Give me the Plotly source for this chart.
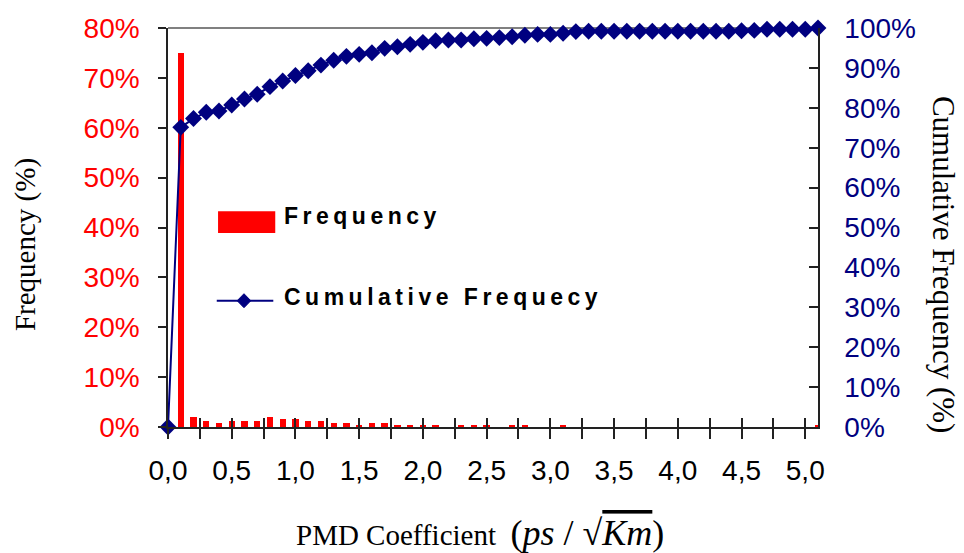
import plotly.graph_objects as go

# PMD coefficient bins (ps/sqrt(Km))
bins = [0.0, 0.1, 0.2, 0.3, 0.4, 0.5, 0.6, 0.7, 0.8, 0.9,
        1.0, 1.1, 1.2, 1.3, 1.4, 1.5, 1.6, 1.7, 1.8, 1.9,
        2.0, 2.1, 2.2, 2.3, 2.4, 2.5, 2.6, 2.7, 2.8, 2.9,
        3.0, 3.1, 3.2, 3.3, 3.4, 3.5, 3.6, 3.7, 3.8, 3.9,
        4.0, 4.1, 4.2, 4.3, 4.4, 4.5, 4.6, 4.7, 4.8, 4.9,
        5.0, 5.1]

# Frequency (%)
frequency = [0.0, 75.0, 2.0, 1.2, 0.8, 1.2, 1.2, 1.2, 2.0, 1.6,
             1.6, 1.2, 1.2, 0.8, 0.8, 0.4, 0.8, 0.8, 0.4, 0.4,
             0.4, 0.4, 0.0, 0.4, 0.4, 0.4, 0.0, 0.4, 0.4, 0.0,
             0.0, 0.4, 0.0, 0.0, 0.0, 0.0, 0.0, 0.0, 0.0, 0.0,
             0.0, 0.0, 0.0, 0.0, 0.0, 0.0, 0.0, 0.0, 0.0, 0.0,
             0.0, 0.3]

# Cumulative frequency (%)
cumulative = [0.0, 75.1, 77.3, 78.9, 79.2, 80.7, 82.2, 83.4, 85.3, 86.7,
              88.1, 89.3, 90.7, 91.9, 92.9, 93.4, 93.8, 94.9, 95.3, 95.9,
              96.4, 96.8, 97.0, 97.0, 97.3, 97.4, 97.6, 97.8, 98.2, 98.4,
              98.4, 98.7, 99.1, 99.2, 99.2, 99.2, 99.2, 99.2, 99.2, 99.2,
              99.2, 99.2, 99.2, 99.2, 99.2, 99.3, 99.4, 99.7, 99.7, 99.7,
              99.7, 100.0]

x_tick_vals = [0.0, 0.25, 0.5, 0.75, 1.0, 1.25, 1.5, 1.75, 2.0, 2.25, 2.5,
               2.75, 3.0, 3.25, 3.5, 3.75, 4.0, 4.25, 4.5, 4.75, 5.0]
x_tick_labels = ["0,0", "", "0,5", "", "1,0", "", "1,5", "", "2,0", "", "2,5",
                 "", "3,0", "", "3,5", "", "4,0", "", "4,5", "", "5,0"]

left_tick_vals = [0, 10, 20, 30, 40, 50, 60, 70, 80]
left_tick_labels = ["0%", "10%", "20%", "30%", "40%", "50%", "60%", "70%", "80%"]
right_tick_vals = [0, 10, 20, 30, 40, 50, 60, 70, 80, 90, 100]
right_tick_labels = ["0%", "10%", "20%", "30%", "40%", "50%", "60%", "70%", "80%", "90%", "100%"]

SANS = "Liberation Sans"
SERIF = "Liberation Serif"
RED = "#FF0000"
NAVY = "#000080"
AX = "#222222"

fig = go.Figure()
fig.add_trace(go.Bar(x=bins, y=frequency, width=0.05, marker=dict(color=RED, line=dict(width=0)),
                     yaxis="y", showlegend=False, name="Frequency"))
fig.add_trace(go.Scatter(x=bins, y=cumulative, yaxis="y2", mode="lines+markers",
                         line=dict(color=NAVY, width=2),
                         marker=dict(symbol="diamond", size=13, color=NAVY),
                         cliponaxis=False, showlegend=False, name="Cumulative Frequecy"))
# overlay axis for the inner half of the crossing x ticks
fig.add_trace(go.Scatter(x=[bins[0]], y=[0], xaxis="x2", yaxis="y", mode="markers",
                         marker=dict(opacity=0), showlegend=False, hoverinfo="skip"))

# page has an 8px body margin, so the figure is made 8px smaller and shifted
fig.update_layout(
    width=956, height=545,
    margin=dict(l=160, r=146, t=20, b=126, autoexpand=False),
    paper_bgcolor="white", plot_bgcolor="white",
    bargap=0,
    xaxis=dict(range=[0, 5.1], tickmode="array", tickvals=x_tick_vals, ticktext=x_tick_labels,
               ticks="outside", ticklen=10, tickwidth=1.5, tickcolor=AX, automargin=False,
               showline=True, linecolor=AX, linewidth=1.5, showgrid=False, zeroline=False,
               ticklabelstandoff=8,
               tickfont=dict(family=SANS, size=28, color="black")),
    xaxis2=dict(range=[0, 5.1], overlaying="x", anchor="y", side="bottom", automargin=False,
                tickmode="array", tickvals=x_tick_vals, ticks="inside", ticklen=9,
                tickwidth=1.5, tickcolor=AX, showticklabels=False, showline=False,
                showgrid=False, zeroline=False),
    yaxis=dict(range=[0, 80], tickmode="array", tickvals=left_tick_vals, ticktext=left_tick_labels,
               ticks="outside", ticklen=8, tickwidth=1.5, tickcolor=AX, automargin=False,
               showline=True, linecolor=AX, linewidth=1.5, showgrid=False, zeroline=False,
               ticklabelstandoff=13,
               tickfont=dict(family=SANS, size=28, color=RED)),
    yaxis2=dict(range=[0, 100], overlaying="y", side="right", tickmode="array",
                tickvals=right_tick_vals, ticktext=right_tick_labels, automargin=False,
                ticks="inside", ticklen=9, tickwidth=1.5, tickcolor=AX,
                showline=True, linecolor=AX, linewidth=1.5, showgrid=False, zeroline=False,
                ticklabelstandoff=19,
                tickfont=dict(family=SANS, size=28, color=NAVY)),
    showlegend=False,
)

# plot-area top border
fig.add_shape(type="line", xref="paper", yref="paper", x0=0, x1=1, y0=1, y1=1,
              line=dict(color="#808080", width=2), layer="below")

# custom legend
fig.add_shape(type="rect", xref="paper", yref="paper", x0=0.077, x1=0.165, y0=0.486, y1=0.541,
              fillcolor=RED, line=dict(width=0))
fig.add_shape(type="line", xref="paper", yref="paper", x0=0.075, x1=0.162, y0=0.3165, y1=0.3165,
              line=dict(color=NAVY, width=2))
cx, cy, dx, dy = 0.1169, 0.3165, 0.0105, 0.0175
fig.add_shape(type="path", xref="paper", yref="paper",
              path=f"M {cx-dx} {cy} L {cx} {cy+dy} L {cx+dx} {cy} L {cx} {cy-dy} Z",
              fillcolor=NAVY, line=dict(color=NAVY, width=1))

legend_font = dict(family=SANS, size=23, color="black")
fig.add_annotation(xref="paper", yref="paper", x=0.1754, y=0.529, xanchor="left", yanchor="middle",
                   text="<b><span style='letter-spacing:4.5px'>Frequency</span></b>",
                   showarrow=False, font=legend_font)
fig.add_annotation(xref="paper", yref="paper", x=0.1754, y=0.3246, xanchor="left", yanchor="middle",
                   text="<b><span style='letter-spacing:4.5px'>Cumulative Frequecy</span></b>",
                   showarrow=False, font=legend_font)

# axis titles
x_title = ("PMD Coefficient  <span style='font-size:36px'>(<i>ps</i> / √"
           "<span style='text-decoration:overline'><i>Km</i></span>)</span>")
fig.add_annotation(xref="paper", yref="paper", x=0.48, y=-0.2665, xanchor="center", yanchor="middle",
                   text=x_title, showarrow=False, font=dict(family=SERIF, size=29, color="black"))
fig.add_annotation(xref="paper", yref="paper", x=-0.22, y=0.456, xanchor="center", yanchor="middle",
                   text="Frequency (%)", textangle=-90,
                   showarrow=False, font=dict(family=SERIF, size=29, color="black"))
fig.add_annotation(xref="paper", yref="paper", x=1.194, y=0.4085, xanchor="center", yanchor="middle",
                   text="Cumulative Frequency (%)", textangle=90,
                   showarrow=False, font=dict(family=SERIF, size=31, color="black"))

fig.write_html("out.html")
